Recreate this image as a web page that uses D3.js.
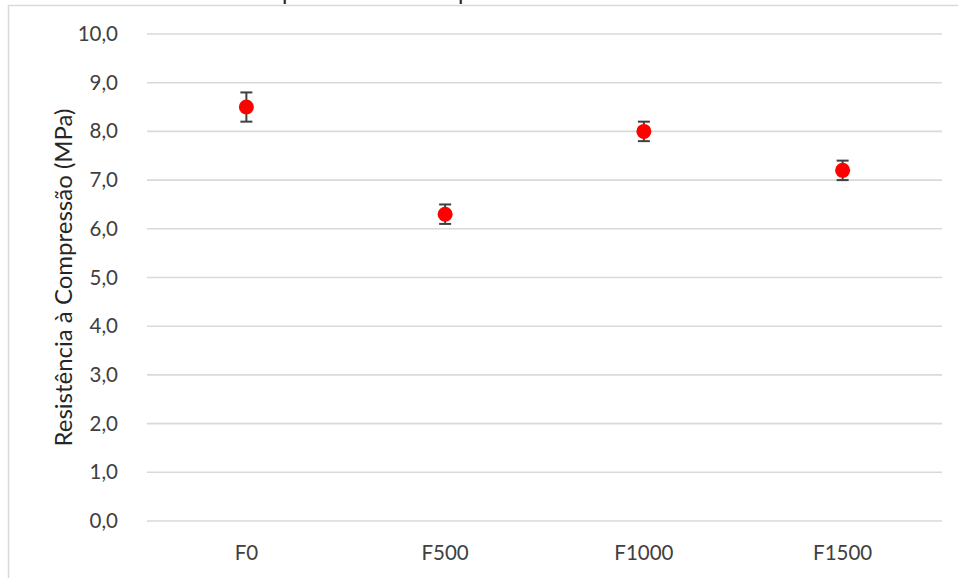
<!DOCTYPE html>
<html>
<head>
<meta charset="utf-8">
<script src="https://cdn.jsdelivr.net/npm/d3@7"></script>
<style>
  html, body { margin: 0; padding: 0; background: #fff; }
  svg { display: block; font-family: Lato, "Open Sans", sans-serif; }
</style>
</head>
<body>
<svg id="chart" width="958" height="578"></svg>
<script>
// Compressive strength per mix, with standard deviation
const categories = ["F0", "F500", "F1000", "F1500"];
const strength = [8.5, 6.3, 8.0, 7.2];
const deviation = [0.3, 0.2, 0.2, 0.2];
const yTicks = [0, 1, 2, 3, 4, 5, 6, 7, 8, 9, 10];
const yTitle = "Resistência à Compressão (MPa)";
const chartTitle = "Resistência à Compressão dos Compósitos";

const W = 958, H = 578;
const margin = { left: 147, right: 16, top: 34, bottom: 57 };
const svg = d3.select("#chart");

// outer chart frame
svg.append("rect")
  .attr("x", 8.5).attr("y", 5.5)
  .attr("width", W + 10).attr("height", H + 10)
  .attr("fill", "none").attr("stroke", "#d9d9d9").attr("stroke-width", 1.5);

// title (sits above the frame)
const title = svg.append("text")
  .attr("y", 0)
  .attr("font-size", 20)
  .attr("fill", "#262626")
  .text(chartTitle);
{
  const node = title.node();
  const i1 = chartTitle.indexOf("p");
  const i2 = chartTitle.indexOf("p", i1 + 1);
  const p1 = node.getStartPositionOfChar(i1).x;
  const p2 = node.getStartPositionOfChar(i2).x;
  const fs = 20 * 176 / (p2 - p1);
  title.attr("font-size", fs);
  const q1 = node.getStartPositionOfChar(i1).x;
  title.attr("x", 282 - q1);
}

const x = d3.scaleBand()
  .domain(categories)
  .range([margin.left, W - margin.right]);

const y = d3.scaleLinear()
  .domain([0, 10])
  .range([H - margin.bottom, margin.top]);

// horizontal gridlines
svg.append("g")
  .selectAll("line")
  .data(yTicks)
  .join("line")
  .attr("x1", margin.left).attr("x2", W - margin.right)
  .attr("y1", d => y(d)).attr("y2", d => y(d))
  .attr("stroke", "#d9d9d9").attr("stroke-width", 1.6);

// y axis labels
const yAxis = d3.axisLeft(y)
  .tickValues(yTicks)
  .tickSize(0)
  .tickPadding(0)
  .tickFormat(d => d3.format(".1f")(d).replace(".", ","));
svg.append("g")
  .attr("transform", `translate(${118},0)`)
  .call(yAxis)
  .call(g => g.select(".domain").remove())
  .call(g => g.selectAll("text")
    .attr("font-family", "Lato, 'Open Sans', sans-serif")
    .attr("font-size", 20.5)
    .attr("fill", "#404040"));

// x axis labels
const xAxis = d3.axisBottom(x).tickSize(0).tickPadding(0);
svg.append("g")
  .attr("transform", `translate(0,${y(0)})`)
  .call(xAxis)
  .call(g => g.select(".domain").remove())
  .call(g => g.selectAll("text")
    .attr("y", 39)
    .attr("dy", 0)
    .attr("font-family", "Lato, 'Open Sans', sans-serif")
    .attr("font-size", 20.5)
    .attr("fill", "#404040"));

// y axis title
svg.append("text")
  .attr("transform", `translate(72,${(y(0) + y(10)) / 2}) rotate(-90)`)
  .attr("text-anchor", "middle")
  .attr("font-size", 24)
  .attr("fill", "#262626")
  .text(yTitle);

const data = categories.map((c, i) => ({ c, v: strength[i], e: deviation[i] }));
const cx = d => x(d.c) + x.bandwidth() / 2;

// error bars
const eb = svg.append("g").attr("stroke", "#404040").attr("stroke-width", 2);
eb.selectAll("line.stem").data(data).join("line")
  .attr("class", "stem")
  .attr("x1", cx).attr("x2", cx)
  .attr("y1", d => y(d.v + d.e)).attr("y2", d => y(d.v - d.e));
eb.selectAll("line.top").data(data).join("line")
  .attr("class", "top")
  .attr("x1", d => cx(d) - 6).attr("x2", d => cx(d) + 6)
  .attr("y1", d => y(d.v + d.e)).attr("y2", d => y(d.v + d.e));
eb.selectAll("line.bot").data(data).join("line")
  .attr("class", "bot")
  .attr("x1", d => cx(d) - 6).attr("x2", d => cx(d) + 6)
  .attr("y1", d => y(d.v - d.e)).attr("y2", d => y(d.v - d.e));

// markers
svg.append("g").selectAll("circle").data(data).join("circle")
  .attr("cx", cx)
  .attr("cy", d => y(d.v))
  .attr("r", 7.5)
  .attr("fill", "#ff0000");
</script>
</body>
</html>
